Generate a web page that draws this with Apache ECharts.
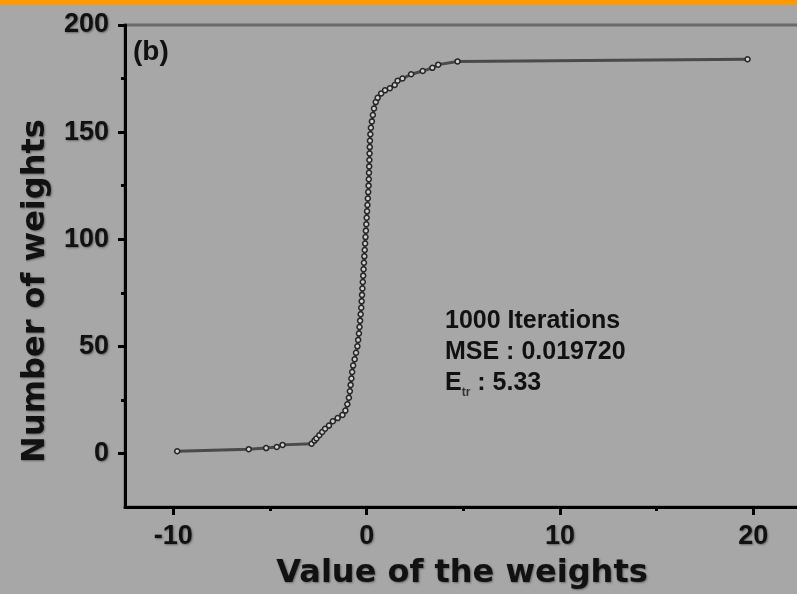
<!DOCTYPE html>
<html>
<head>
<meta charset="utf-8">
<script src="https://cdn.jsdelivr.net/npm/echarts@6/dist/echarts.min.js"></script>
<style>
  html, body { margin: 0; padding: 0; background: #a7a7a7; }
  #bar { height: 5px; background: #ff9a00; }
  #chart { width: 797px; height: 589px; }
</style>
</head>
<body>
<div id="bar"></div>
<div id="chart"></div>
<script>
// Sorted weight values (x) and the running count of weights (y)
var weightValues = [
  -9.8, -6.1, -5.2, -4.65, -4.35, -2.85, -2.7, -2.6, -2.45, -2.3,
  -2.15, -1.95, -1.75, -1.5, -1.25, -1.1, -1.0, -0.92, -0.87, -0.83,
  -0.79, -0.75, -0.7, -0.62, -0.55, -0.48, -0.44, -0.4, -0.37, -0.34,
  -0.31, -0.28, -0.26, -0.24, -0.22, -0.2, -0.18, -0.16, -0.14, -0.12,
  -0.1, -0.08, -0.06, -0.04, -0.02, 0.0, 0.02, 0.04, 0.06, 0.08,
  0.1, 0.11, 0.12, 0.13, 0.14, 0.15, 0.16, 0.17, 0.19, 0.22,
  0.27, 0.32, 0.38, 0.47, 0.57, 0.75, 0.95, 1.2, 1.45, 1.6,
  1.85, 2.3, 2.9, 3.4, 3.7, 4.7, 19.7
];
var weightCounts = [
  1, 2, 2.5, 3, 4, 4.5, 6, 7, 8.5, 10,
  11.5, 13, 15, 16.5, 18, 20, 23, 26, 29, 32,
  35, 38, 41, 44, 47, 50, 53, 56, 59, 62,
  65, 68, 71, 74, 77, 80, 83, 86, 89, 92,
  95, 98, 101, 104, 107, 110, 113, 116, 119, 122,
  125, 128, 131, 134, 137, 140, 143, 146, 149, 152,
  155, 158, 161, 164, 166, 168, 169.5, 170.5, 172, 174,
  175, 177, 178.5, 180, 181.5, 183, 184
];
var xMajorTicks = [-10, 0, 10, 20];
var xMinorTicks = [-5, 5, 15];
var yMajorTicks = [0, 50, 100, 150, 200];
var yMinorTicks = [25, 75, 125, 175];

var points = weightValues.map(function (v, i) { return [v, weightCounts[i]]; });

var shadow = {
  textShadowColor: 'rgba(60,60,60,0.6)',
  textShadowBlur: 2,
  textShadowOffsetX: 1,
  textShadowOffsetY: 1
};
var labelFont = Object.assign({
  fontFamily: 'Liberation Sans, Arial, sans-serif',
  fontWeight: 'bold',
  fontSize: 27,
  color: '#111'
}, shadow);
var titleFont = 'bold 32px "DejaVu Sans", sans-serif';

var chart = echarts.init(document.getElementById('chart'));
chart.setOption({
  backgroundColor: '#a7a7a7',
  animation: false,
  grid: {
    left: 125, top: 20, right: -53, bottom: 87,
    outerBoundsMode: 'none',
    containLabel: false,
    show: true, borderColor: '#6a6a6a', borderWidth: 3,
    backgroundColor: 'transparent'
  },
  xAxis: [{
    type: 'value', min: -12.5, max: 25,
    splitLine: { show: false },
    axisLine: { show: true, onZero: false, lineStyle: { color: '#000', width: 3 } },
    axisTick: { show: true, inside: false, length: 8, customValues: xMajorTicks,
      lineStyle: { color: '#000', width: 3 } },
    axisLabel: Object.assign({ show: true, margin: 16, customValues: xMajorTicks }, labelFont)
  }, {
    type: 'value', min: -12.5, max: 25, position: 'bottom',
    splitLine: { show: false },
    axisLine: { show: false, onZero: false },
    axisTick: { show: true, inside: false, length: 4, customValues: xMinorTicks,
      lineStyle: { color: '#000', width: 3 } },
    axisLabel: { show: false }
  }],
  yAxis: [{
    type: 'value', min: -25, max: 200,
    splitLine: { show: false },
    axisLine: { show: true, onZero: false, lineStyle: { color: '#000', width: 3 } },
    axisTick: { show: true, inside: false, length: 7, customValues: yMajorTicks,
      lineStyle: { color: '#000', width: 3 } },
    axisLabel: Object.assign({ show: true, margin: 16, customValues: yMajorTicks }, labelFont)
  }, {
    type: 'value', min: -25, max: 200, position: 'left',
    splitLine: { show: false },
    axisLine: { show: false, onZero: false },
    axisTick: { show: true, inside: false, length: 4, customValues: yMinorTicks,
      lineStyle: { color: '#000', width: 3 } },
    axisLabel: { show: false }
  }],
  series: [{
    type: 'line',
    xAxisIndex: 0, yAxisIndex: 0,
    data: points,
    lineStyle: { color: '#4a4a4a', width: 3 },
    symbol: 'circle',
    symbolSize: 5,
    itemStyle: { color: '#d0d0d0', borderColor: '#262626', borderWidth: 1.5 },
    z: 3
  }],
  graphic: [{
    type: 'text', x: 462, y: 569,
    style: Object.assign({
      text: 'Value of the weights', font: titleFont, fill: '#111',
      align: 'center', verticalAlign: 'middle'
    }, shadow)
  }, {
    type: 'text', x: 36, y: 286, rotation: Math.PI / 2,
    style: Object.assign({
      text: 'Number of weights', font: titleFont, fill: '#111',
      align: 'center', verticalAlign: 'middle'
    }, shadow)
  }, {
    type: 'text', left: 133, top: 33,
    style: {
      text: '(b)',
      font: 'bold 28px "Liberation Sans", Arial, sans-serif',
      fill: '#111'
    }
  }, {
    type: 'text', left: 445, top: 301,
    style: {
      text: '1000 Iterations\nMSE : 0.019720\n{e|E}{sub|tr} {e|: 5.33}',
      font: 'bold 25px "Liberation Sans", Arial, sans-serif',
      fill: '#111',
      lineHeight: 31,
      rich: {
        e: { font: 'bold 25px "Liberation Sans", Arial, sans-serif', fill: '#111' },
        sub: { font: 'bold 12px "Liberation Sans", Arial, sans-serif', fill: '#333',
          verticalAlign: 'bottom', padding: [12, 0, 0, 0] }
      }
    }
  }]
});
</script>
</body>
</html>
